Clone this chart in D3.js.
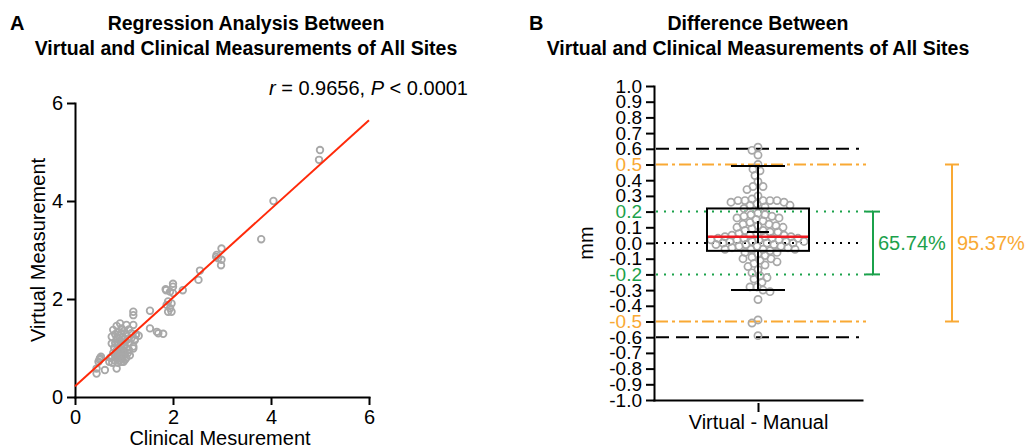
<!DOCTYPE html>
<html>
<head>
<meta charset="utf-8">
<script src="https://cdn.jsdelivr.net/npm/d3@7"></script>
<style>
  body { margin: 0; background: #fff; }
  svg { display: block; font-family: "Liberation Sans", Arial, sans-serif; }
</style>
</head>
<body>
<div id="chart"></div>
<script>
// ---- panel A: regression ----
var clinical = [5.00, 4.98, 4.05, 3.80, 2.99, 2.89, 2.92, 2.99, 2.98, 2.88,
                2.55, 2.52, 2.20, 2.00, 1.86, 1.94, 2.00, 1.90, 1.97, 1.87,
                1.94, 1.90, 1.97, 2.00, 1.85, 1.53, 1.53, 1.67, 1.70, 1.80,
                1.19, 1.19, 0.51, 0.48, 0.44, 0.44, 0.61, 0.85, 0.99, 0.50,
                0.53,
                0.92, 1.05, 0.85, 1.19,
                0.78, 0.95, 1.10, 1.00, 0.88,
                0.82, 0.95, 1.05, 1.15, 1.25, 0.90,
                0.75, 0.85, 0.98, 1.08, 1.22, 0.92, 1.02,
                0.75, 0.82, 0.95, 1.10, 1.19, 0.88, 1.00, 1.05,
                0.80, 0.90, 0.95, 1.00, 1.10, 0.85, 0.92, 1.08,
                0.78, 0.88, 0.95, 1.02, 0.82, 0.98, 1.12, 0.90,
                0.75, 0.85, 0.95, 1.02, 0.80, 0.90, 1.05, 0.88,
                0.70, 0.76, 0.95, 1.22, 1.24, 1.19, 0.72, 1.30,
                1.00, 0.93, 0.97, 1.15, 0.86];
var virtual = [5.04, 4.84, 4.00, 3.22, 3.03, 2.90, 2.83, 2.80, 2.69, 2.86,
               2.58, 2.39, 2.18, 2.31, 2.18, 2.15, 2.12, 1.95, 1.91, 1.88,
               1.81, 1.74, 1.74, 2.25, 2.20, 1.76, 1.40, 1.33, 1.30, 1.29,
               1.74, 1.67, 0.79, 0.72, 0.58, 0.48, 0.55, 0.58, 0.72, 0.76,
               0.82,
               1.50, 1.47, 1.45, 1.47,
               1.37, 1.40, 1.38, 1.35, 1.33,
               1.28, 1.30, 1.27, 1.30, 1.28, 1.25,
               1.23, 1.20, 1.22, 1.18, 1.16, 1.15, 1.12,
               1.09, 1.10, 1.08, 1.10, 1.03, 1.05, 1.04, 1.00,
               1.00, 0.98, 1.00, 0.95, 0.96, 0.95, 0.92, 0.90,
               0.90, 0.88, 0.86, 0.88, 0.85, 0.82, 0.85, 0.80,
               0.82, 0.78, 0.78, 0.76, 0.75, 0.74, 0.80, 0.70,
               0.72, 0.70, 0.72, 1.18, 1.27, 0.99, 0.80, 1.25,
               1.18, 1.05, 0.93, 1.20, 1.12];
var fitIntercept = 0.22;
var fitSlope = 0.905;
var ticksA = [0, 2, 4, 6];
var statText = ["r", " = 0.9656, ", "P", " < 0.0001"];

// ---- panel B: differences ----
var differences = [0.61, 0.59, 0.56,
                   0.50, 0.47, 0.46, 0.43, 0.39, 0.36, 0.36, 0.34, 0.30, 0.28, 0.27,
                   0.27, 0.27, 0.27, 0.27, 0.26, 0.26, 0.25, 0.24, 0.24, 0.23, 0.22,
                   0.19, 0.18, 0.18, 0.17, 0.17, 0.16, 0.16, 0.15, 0.14, 0.13, 0.12,
                   0.12, 0.11, 0.11, 0.10, 0.10, 0.09, 0.08, 0.08, 0.07, 0.07, 0.06,
                   0.06, 0.05, 0.05, 0.05, 0.04, 0.04, 0.04,
                   0.03, 0.03, 0.03, 0.03, 0.02, 0.02, 0.02, 0.02,
                   0.01, 0.01, 0.01, 0.01, 0.00, 0.00, 0.00,
                   -0.01, -0.01, -0.01, -0.02, -0.02, -0.02, -0.03, -0.03,
                   -0.04, -0.04, -0.04, -0.04,
                   -0.05, -0.06, -0.06, -0.07, -0.08, -0.09, -0.10, -0.10, -0.11,
                   -0.12, -0.13, -0.14, -0.15, -0.17, -0.19,
                   -0.21, -0.22, -0.23, -0.25, -0.28, -0.28, -0.30, -0.31, -0.36, -0.49,
                   -0.51, -0.59];
var q1 = -0.05, median = 0.04, q3 = 0.22;
var whiskerLow = -0.30, whiskerHigh = 0.49;
var meanDiff = 0.07;
var ticksB = [-1.0, -0.9, -0.8, -0.7, -0.6, -0.5, -0.4, -0.3, -0.2, -0.1, 0.0,
              0.1, 0.2, 0.3, 0.4, 0.5, 0.6, 0.7, 0.8, 0.9, 1.0];
var categoryB = ["Virtual - Manual"];
var limitInner = 0.2, limitOuter = 0.5, limitDash = 0.6;
var pctInner = "65.74%", pctOuter = "95.37%";

var green = "#1ba14b", orange = "#f9a934", grey = "#a8a8a8";

var svg = d3.select("#chart").append("svg")
       .attr("width", 1030)
       .attr("height", 448);

function styleAxis(g) {
       g.selectAll("path").attr("stroke", "#000").attr("stroke-width", 2)
              .attr("stroke-linecap", "square");
       g.selectAll("line").attr("stroke", "#000").attr("stroke-width", 2);
       g.selectAll("text").attr("fill", "#000").style("font-size", "20px")
              .style("font-family", "'Liberation Sans', Arial, sans-serif");
}

// titles
function title(x, lines, letter, lx) {
       svg.append("text").attr("x", lx).attr("y", 30)
              .style("font-size", "20px").style("font-weight", "bold").text(letter);
       lines.forEach((t, i) => {
              svg.append("text").attr("x", x).attr("y", 30 + i * 25)
                     .attr("text-anchor", "middle")
                     .style("font-size", "19.5px").style("font-weight", "bold").text(t);
       });
}
title(246, ["Regression Analysis Between", "Virtual and Clinical Measurements of All Sites"], "A", 10);
title(758, ["Difference Between", "Virtual and Clinical Measurements of All Sites"], "B", 529);

// ================= panel A =================
var xA = d3.scaleLinear().domain([0, 6]).range([75, 369]);
var yA = d3.scaleLinear().domain([0, 6]).range([397, 103]);

svg.append("g")
       .attr("transform", "translate(0,397)")
       .call(d3.axisBottom(xA).tickValues(ticksA).tickFormat(d3.format("d"))
              .tickSize(8).tickPadding(5).tickSizeOuter(0))
       .call(styleAxis);
svg.append("g")
       .attr("transform", "translate(75,0)")
       .call(d3.axisLeft(yA).tickValues(ticksA).tickFormat(d3.format("d"))
              .tickSize(8).tickPadding(4).tickSizeOuter(0))
       .call(styleAxis);

svg.append("text")
       .attr("x", 220).attr("y", 445)
       .attr("text-anchor", "middle")
       .style("font-size", "20px")
       .text("Clinical Mesurement");
svg.append("text")
       .attr("transform", "translate(45,250) rotate(-90)")
       .attr("text-anchor", "middle")
       .style("font-size", "20px")
       .text("Virtual Measurement");

var stat = svg.append("text").attr("x", 468).attr("y", 95)
       .attr("text-anchor", "end").style("font-size", "20px");
statText.forEach((t, i) => {
       stat.append("tspan").style("font-style", i % 2 == 0 ? "italic" : "normal").text(t);
});

svg.append("g").selectAll("circle")
       .data(clinical)
       .enter()
       .append("circle")
       .attr("cx", d => xA(d))
       .attr("cy", (d, i) => yA(virtual[i]))
       .attr("r", 3.3)
       .attr("fill", "none")
       .attr("stroke", grey)
       .attr("stroke-width", 1.8);

svg.append("line")
       .attr("x1", xA(0)).attr("y1", yA(fitIntercept))
       .attr("x2", xA(6)).attr("y2", yA(fitIntercept + fitSlope * 6))
       .attr("stroke", "#ff2a0a")
       .attr("stroke-width", 2);

// ================= panel B =================
var yB = d3.scaleLinear().domain([-1, 1]).range([400, 86]);
var xB = d3.scalePoint().domain(categoryB).range([654, 862]).padding(0.5);
var cx = xB(categoryB[0]);

function tickColour(v) {
       var a = Math.abs(Math.round(v * 10) / 10);
       if (a == limitOuter) return orange;
       if (a == limitInner) return green;
       return "#000";
}

var yAxisB = svg.append("g")
       .attr("transform", "translate(654,0)")
       .call(d3.axisLeft(yB).tickValues(ticksB).tickSize(8).tickPadding(4).tickSizeOuter(0)
              .tickFormat(d => d.toFixed(1)))
       .call(styleAxis);
yAxisB.selectAll(".tick text").attr("fill", d => tickColour(d)).style("font-size", "19px");

var xAxisB = svg.append("g")
       .attr("transform", "translate(0,400)")
       .call(d3.axisBottom(xB).tickSize(12).tickPadding(3).tickSizeOuter(0))
       .call(styleAxis);
xAxisB.selectAll(".tick line").attr("y1", 3);

svg.append("text")
       .attr("transform", "translate(593," + yB(0) + ") rotate(-90)")
       .attr("text-anchor", "middle")
       .style("font-size", "20px")
       .text("mm");

// reference lines
var refs = [
       { v: limitDash, colour: "#000", dash: "13,7", x2: 859 },
       { v: -limitDash, colour: "#000", dash: "13,7", x2: 859 },
       { v: limitOuter, colour: orange, dash: "12,4,3,4", x2: 866 },
       { v: -limitOuter, colour: orange, dash: "12,4,3,4", x2: 866 },
       { v: limitInner, colour: green, dash: "2,6", x2: 873 },
       { v: -limitInner, colour: green, dash: "2,6", x2: 873 },
       { v: 0, colour: "#000", dash: "2,6", x2: 862 }
];
svg.append("g").selectAll("line")
       .data(refs)
       .enter()
       .append("line")
       .attr("x1", 656).attr("x2", d => d.x2)
       .attr("y1", d => yB(d.v)).attr("y2", d => yB(d.v))
       .attr("stroke", d => d.colour)
       .attr("stroke-width", 2)
       .attr("stroke-dasharray", d => d.dash);

// simple beeswarm, points may overlap a little like in the original
var rB = 3.6, minDist = 6.5;
var placed = [];
differences.slice().sort((a, b) => b - a).forEach(v => {
       var y = yB(v);
       for (var k = 0; k < 400; k++) {
              var off = (k % 2 ? -1 : 1) * Math.ceil(k / 2);
              var ok = placed.every(p => (p.x - off) * (p.x - off) + (p.y - y) * (p.y - y) >= minDist * minDist);
              if (ok) { placed.push({ x: off, y: y }); break; }
       }
});
svg.append("g").selectAll("circle")
       .data(placed)
       .enter()
       .append("circle")
       .attr("cx", d => cx + d.x)
       .attr("cy", d => d.y)
       .attr("r", rB)
       .attr("fill", "none")
       .attr("stroke", grey)
       .attr("stroke-width", 1.7);

// box and whiskers
var box = svg.append("g").attr("stroke", "#000").attr("stroke-width", 2).attr("fill", "none");
box.append("rect")
       .attr("x", cx - 51).attr("width", 102)
       .attr("y", yB(q3)).attr("height", yB(q1) - yB(q3));
box.append("line").attr("x1", cx).attr("x2", cx).attr("y1", yB(whiskerHigh)).attr("y2", yB(q3));
box.append("line").attr("x1", cx).attr("x2", cx).attr("y1", yB(q1)).attr("y2", yB(whiskerLow));
[whiskerHigh, whiskerLow].forEach(w => {
       box.append("line").attr("x1", cx - 27).attr("x2", cx + 27)
              .attr("y1", yB(w)).attr("y2", yB(w));
});
box.append("line")
       .attr("x1", cx - 50).attr("x2", cx + 50)
       .attr("y1", yB(median)).attr("y2", yB(median))
       .attr("stroke", "#ee1c24").attr("stroke-width", 2.5);
box.append("line").attr("x1", cx - 11).attr("x2", cx + 11)
       .attr("y1", yB(meanDiff)).attr("y2", yB(meanDiff));
box.append("line").attr("x1", cx).attr("x2", cx)
       .attr("y1", yB(meanDiff) - 11).attr("y2", yB(meanDiff) + 11);

// brackets
function bracket(x, lim, colour, label) {
       var g = svg.append("g").attr("stroke", colour).attr("stroke-width", 2);
       g.append("line").attr("x1", x).attr("x2", x).attr("y1", yB(lim)).attr("y2", yB(-lim));
       g.append("line").attr("x1", x - 7).attr("x2", x + 7).attr("y1", yB(lim)).attr("y2", yB(lim));
       g.append("line").attr("x1", x - 7).attr("x2", x + 7).attr("y1", yB(-lim)).attr("y2", yB(-lim));
       svg.append("text")
              .attr("x", x + 5).attr("y", yB(0)).attr("dy", "0.35em")
              .attr("fill", colour)
              .style("font-size", "20px")
              .text(label);
}
bracket(873, limitInner, green, pctInner);
bracket(952, limitOuter, orange, pctOuter);
</script>
</body>
</html>
